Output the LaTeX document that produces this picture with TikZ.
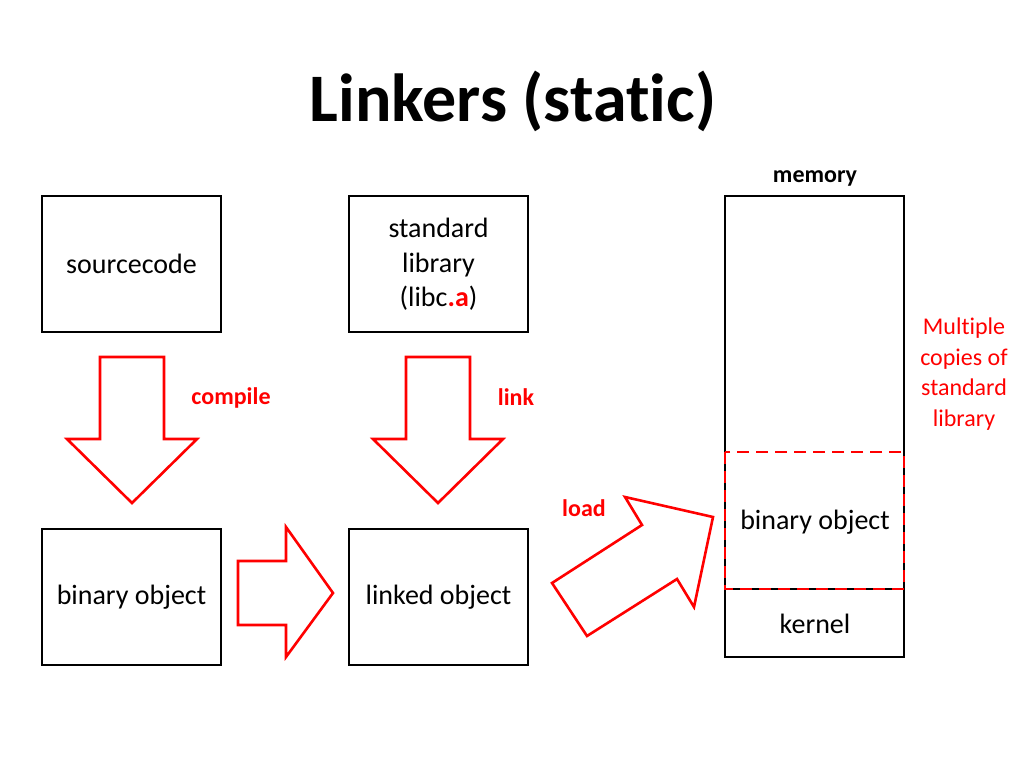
\documentclass[tikz,border=0pt]{standalone}
\usepackage{fontspec}
\setmainfont{Carlito}[Ligatures=NoCommon]
\usetikzlibrary{positioning}

\begin{document}
\begin{tikzpicture}[x=1pt, y=-1pt, line join=miter,
    box/.style={draw, line width=2.6pt, minimum width=179pt, minimum height=136pt,
                align=center, font=\fontsize{28}{34.5}\selectfont},
    blockarrow/.style={draw=red, line width=2.6pt, fill=white},
    redlabel/.style={text=red, font=\fontsize{24}{30}\selectfont\bfseries}]
    \useasboundingbox (0,0) rectangle (1024,768);

    % title
    \node (title) at (513,101) {\fontsize{68}{70}\selectfont\bfseries Linkers (static)};

    % the four stages
    \node[box] (src)  at (131.5,264) {sourcecode};
    \node[box, text depth=3pt] (lib) at (438.5,264)
        {standard\\library\\(libc{\color{red}\bfseries .a})};
    \node[box] (bin)  at (131.5,597) {binary object};
    \node[box] (lnk)  at (438.5,597) {linked object};

    % memory column
    \coordinate (memtop) at (725,196);
    \coordinate (memsep) at (904,589);
    \draw[line width=2.6pt] (memtop) rectangle (904,657);
    \draw[line width=2.6pt] (725,589) -- (memsep);
    \draw[red, line width=2.6pt, dash pattern=on 12pt off 7pt] (725,452) rectangle (memsep);
    \node[font=\fontsize{24}{28}\selectfont\bfseries] (memlabel) at (815,178) {memory};
    \node[font=\fontsize{28}{34}\selectfont] (membin) at (815,522) {binary object};
    \node[font=\fontsize{28}{34}\selectfont] (kernel) at (815,624) {kernel};
    \node[text=red, align=center, font=\fontsize{24}{30.5}\selectfont] (copies) at (964,374)
        {Multiple\\copies of\\standard\\library};

    % block arrows
    \draw[blockarrow] (100,357) -- (164,357) -- (164,439) -- (197,439) -- (132,503)
        -- (67,439) -- (100,439) -- cycle;
    \draw[blockarrow] (406,357) -- (470,357) -- (470,439) -- (503,439) -- (438,503)
        -- (373,439) -- (406,439) -- cycle;
    \draw[blockarrow] (238,561) -- (286,561) -- (286,527) -- (333,593) -- (286,657)
        -- (286,625) -- (238,625) -- cycle;
    \draw[blockarrow] (552,583) -- (642,525) -- (625,497) -- (713,517) -- (694,607)
        -- (677,579) -- (587,636) -- cycle;

    % arrow labels
    \node[redlabel] (compile) at (231,398) {compile};
    \node[redlabel] (link)    at (516,397) {link};
    \node[redlabel] (load)    at (584,508) {load};
\end{tikzpicture}
\end{document}
